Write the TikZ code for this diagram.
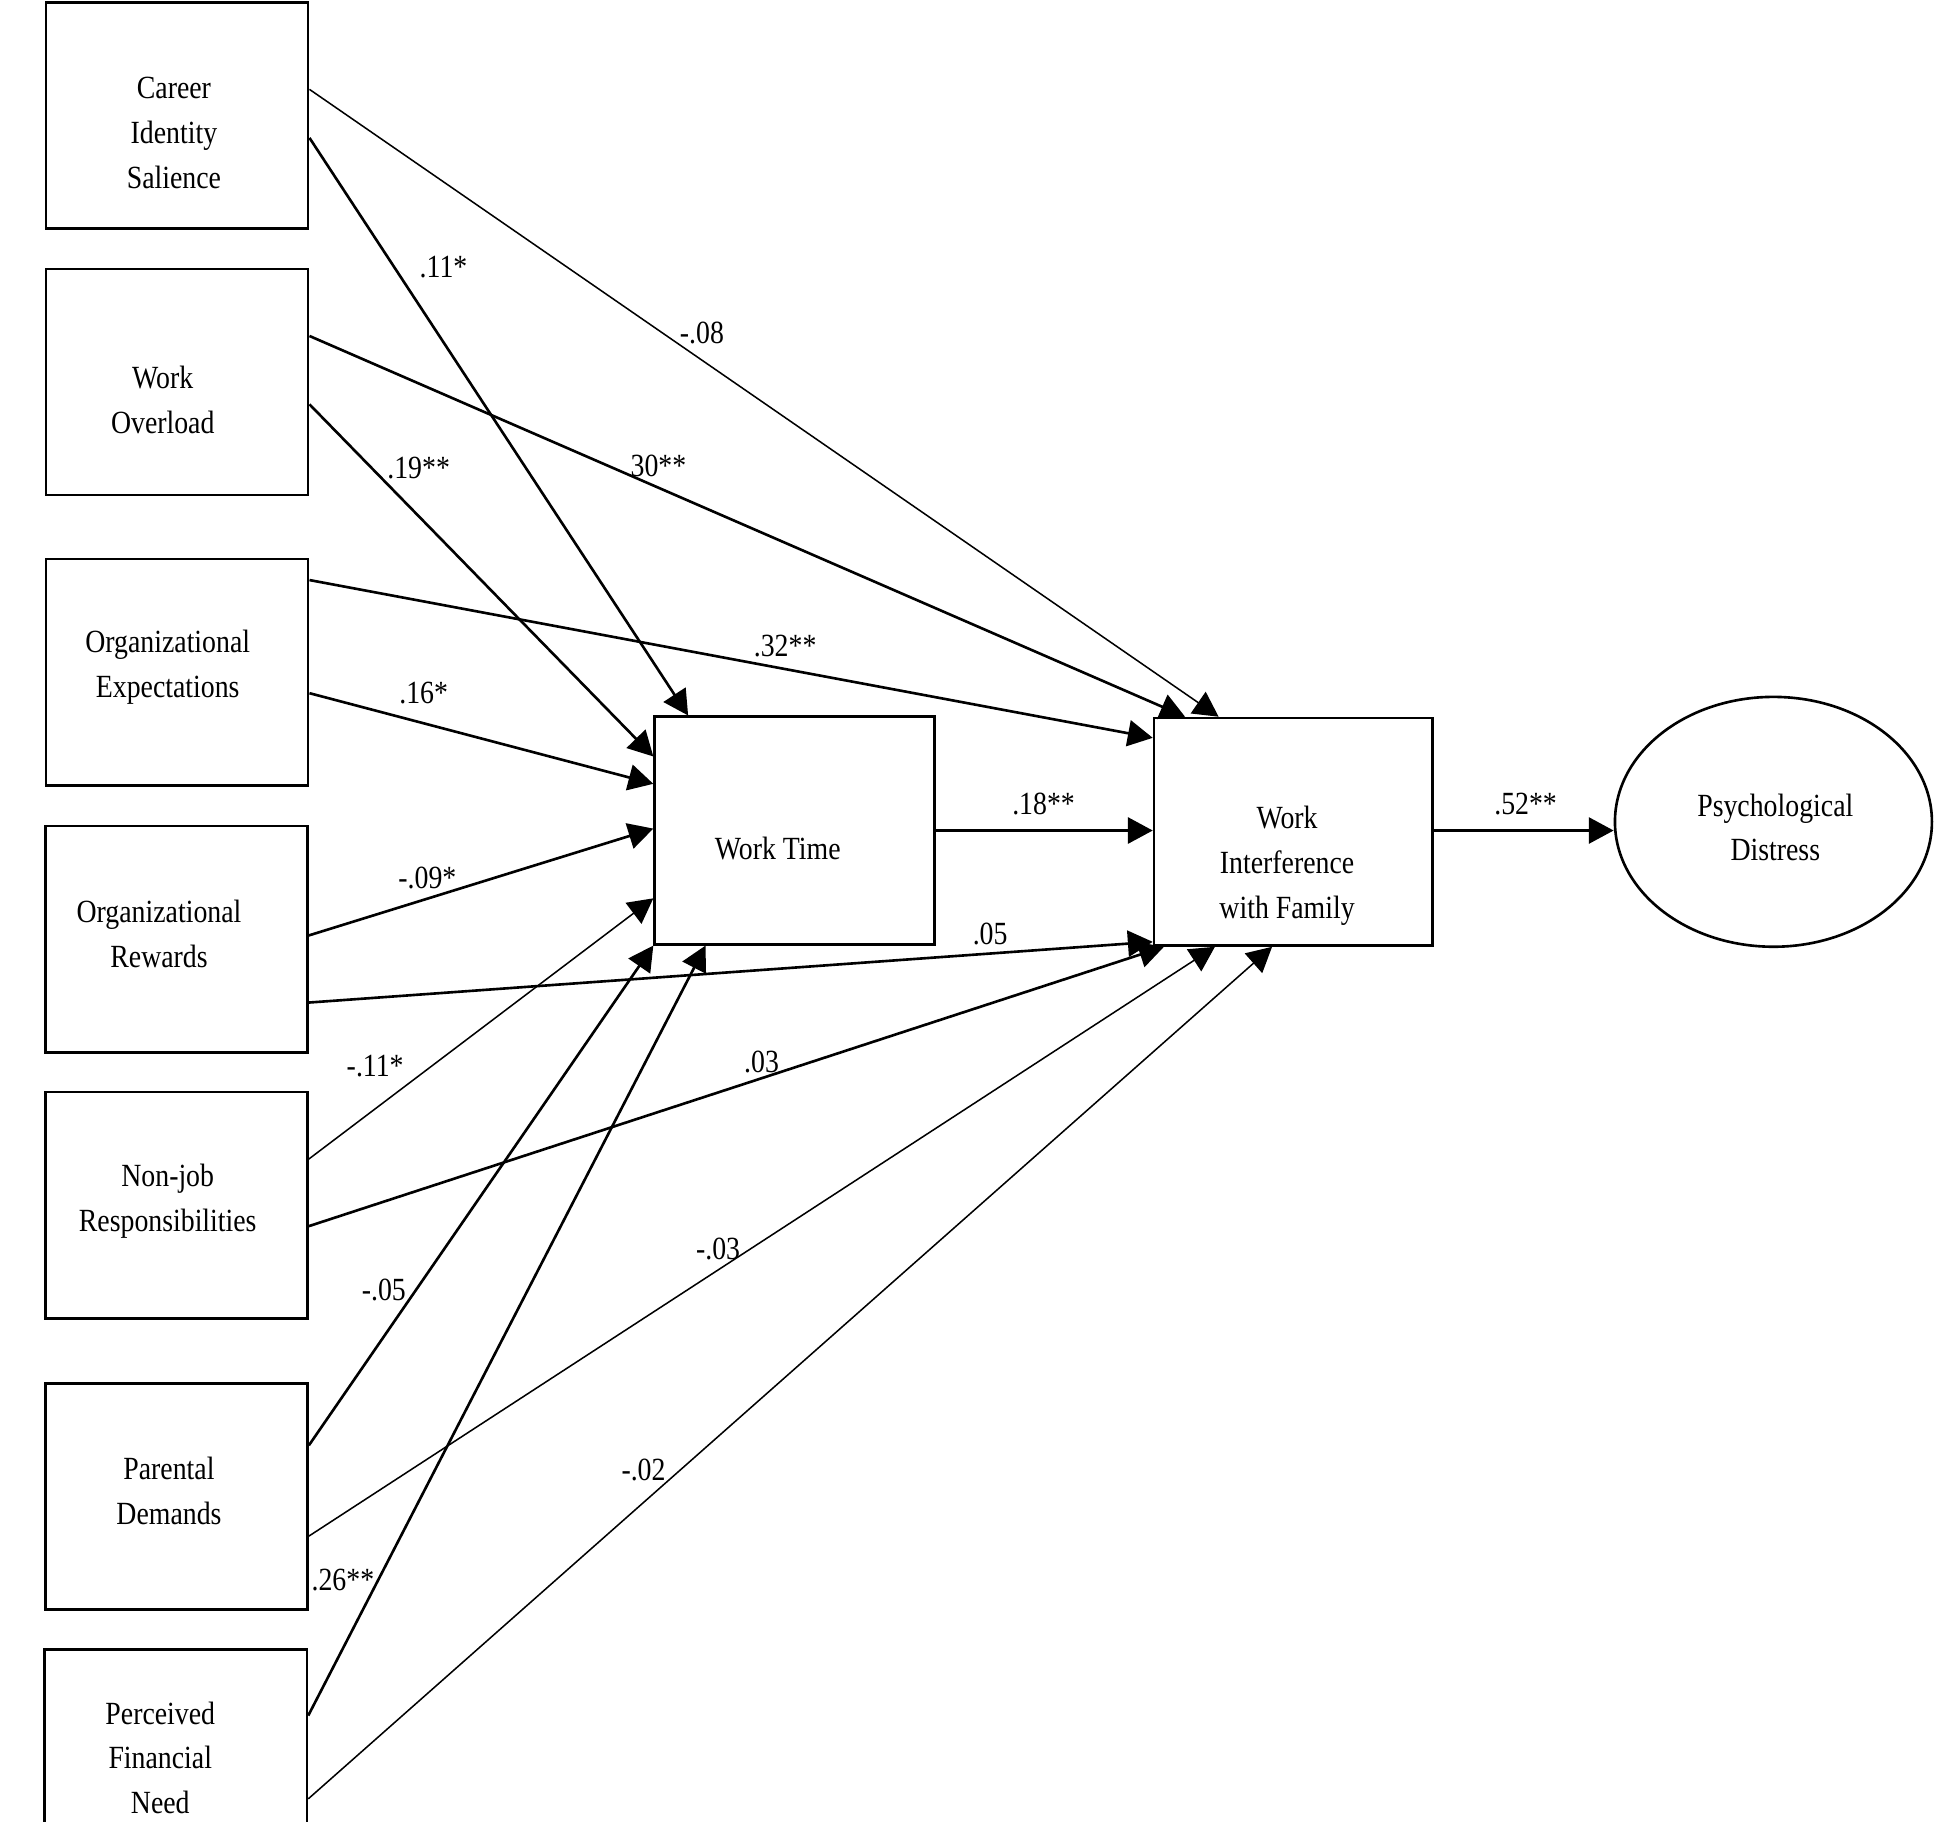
\documentclass[tikz,border=0pt]{standalone}
\usepackage{fontspec}
\setmainfont{Liberation Serif}[FakeStretch=0.86]
\usetikzlibrary{arrows.meta,shapes.geometric,calc}
\begin{document}
\begin{tikzpicture}[x=0.01cm,y=-0.01cm,
  box/.style={draw, line width=0.6pt, minimum width=2.11cm, minimum height=1.82cm, inner sep=0},
  txt/.style={font=\fontsize{7.4}{10.24}\selectfont, align=center, inner sep=0},
  lbl/.style={font=\fontsize{7.4}{9}\selectfont, inner sep=0},
  arr/.style={-{Triangle[length=0.2cm,width=0.21cm]}, line width=0.6pt},
  thinarr/.style={arr, line width=0.35pt}]
\clip (0,0) rectangle (1568,1466);
\fill[white] (0,0) rectangle (1568,1466);
% boxes
\node[box] (cis) at (142.5,93) {};
\node[box] (wo) at (142.5,307.5) {};
\node[box] (oe) at (142.5,541) {};
\node[box] (orw) at (142,756) {};
\node[box] (nj) at (142,970) {};
\node[box] (pd) at (142,1204.5) {};
\node[box] (pfn) at (141.5,1419) {};
\node[box, minimum width=2.25cm, minimum height=1.83cm] (wt) at (639.5,668.5) {};
\node[box, minimum width=2.24cm, minimum height=1.83cm] (wif) at (1041,669.5) {};
\node[draw, ellipse, line width=0.6pt, minimum width=2.55cm, minimum height=2.01cm, inner sep=0] (pdist) at (1427.5,661.5) {};
% texts
\node[txt] (cisT) at (140,107) {Career\\Identity\\Salience};
\node[txt] (woT) at (131,322) {Work\\Overload};
\node[txt] (oeT) at (135,537) {Organizational\\Expectations};
\node[txt] (orT) at (128,752) {Organizational\\Rewards};
\node[txt] (njT) at (135,967) {Non-job\\Responsibilities};
\node[txt] (pdT) at (136,1200) {Parental\\Demands};
\node[txt] (pfnT) at (129,1415) {Perceived\\Financial\\Need};
\node[txt] (wtT) at (626,683) {Work Time};
\node[txt] (wifT) at (1036,697) {Work\\Interference\\with Family};
\node[txt] (pdistT) at (1429,666) {Psychological\\Distress};
% connectors
\draw[thinarr] ([yshift=-0.71cm]cis.north east) -- ([xshift=0.53cm]wif.north west);
\draw[arr] ([yshift=-1.10cm]cis.north east) -- ([xshift=0.28cm]wt.north west);
\draw[arr] ([yshift=-0.55cm]wo.north east) -- ([xshift=0.26cm]wif.north west);
\draw[arr] ([yshift=-1.10cm]wo.north east) -- ([yshift=-0.33cm]wt.north west);
\draw[arr] ([yshift=-0.18cm]oe.north east) -- ([yshift=-0.17cm]wif.north west);
\draw[arr] ([yshift=-1.09cm]oe.north east) -- ([yshift=-0.55cm]wt.north west);
\draw[arr] ([yshift=-0.89cm]orw.north east) -- ([yshift=-0.91cm]wt.north west);
\draw[arr] ([yshift=-1.43cm]orw.north east) -- ([yshift=0.04cm]wif.south west);
\draw[thinarr] ([yshift=-0.55cm]nj.north east) -- ([yshift=0.38cm]wt.south west);
\draw[arr] ([yshift=-1.09cm]nj.north east) -- ([xshift=0.09cm]wif.south west);
\draw[arr] ([yshift=-0.51cm]pd.north east) -- (wt.south west);
\draw[thinarr] ([yshift=-1.24cm]pd.north east) -- ([xshift=0.50cm]wif.south west);
\draw[arr] ([yshift=-0.54cm]pfn.north east) -- ([xshift=0.42cm]wt.south west);
\draw[thinarr] ([yshift=-1.21cm]pfn.north east) -- ([xshift=0.96cm]wif.south west);
\draw[arr] (wt.east) -- (wt.east -| wif.west);
\draw[arr] ([yshift=0.01cm]wif.east) -- ([yshift=0.01cm]wif.east -| pdist.west);
% labels
\node[lbl] (l1) at (565,268) {-.08};
\node[lbl] (l2) at (357,215) {.11*};
\node[lbl] (l3) at (530,375) {30**};
\node[lbl] (l4) at (337,377) {.19**};
\node[lbl] (l5) at (632,520) {.32**};
\node[lbl] (l6) at (341,558) {.16*};
\node[lbl] (l7) at (344,707) {-.09*};
\node[lbl] (l8) at (797,752) {.05};
\node[lbl] (l9) at (840,647) {.18**};
\node[lbl] (l10) at (1228,647) {.52**};
\node[lbl] (l11) at (302,858) {-.11*};
\node[lbl] (l12) at (613,855) {.03};
\node[lbl] (l13) at (309,1038) {-.05};
\node[lbl] (l14) at (578,1005) {-.03};
\node[lbl] (l15) at (276,1272) {.26**};
\node[lbl] (l16) at (518,1183) {-.02};
\end{tikzpicture}
\end{document}
